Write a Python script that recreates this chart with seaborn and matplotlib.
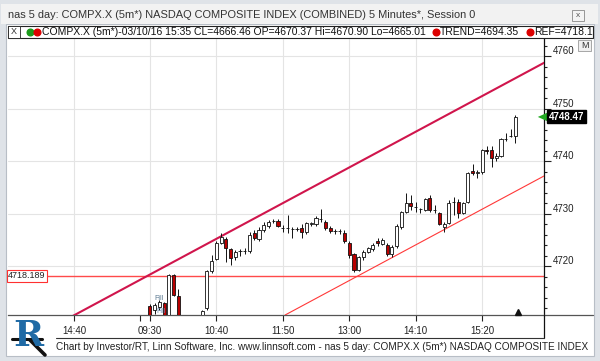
import numpy as np
import matplotlib
matplotlib.use("Agg")
import matplotlib.pyplot as plt
import seaborn as sns
from matplotlib.patches import Rectangle, Polygon
from matplotlib.lines import Line2D
from matplotlib.ticker import MultipleLocator

# 5 minute bars, bar 0 = 09:30 of the last session (bars 7-10 are below the visible range)
opens = [4712.5, 4711.8, 4712.3, 4713.0, 4709.5, 4718.4, 4714.4, np.nan, np.nan, np.nan, np.nan,
         4709.5, 4712.1, 4719.1, 4721.4, 4724.5, 4725.2, 4723.3, 4721.8, 4722.9, 4723.0,
         4722.95, 4726.4, 4725.3, 4727.0, 4727.7, 4728.6, 4728.7, 4727.4, 4727.3, 4727.2,
         4727.1, 4727.3, 4726.6, 4728.1, 4728.1, 4729.1, 4728.5, 4727.3, 4726.8, 4726.7,
         4726.4, 4724.5, 4722.4, 4719.3, 4721.8, 4722.8, 4723.3, 4724.9, 4724.3, 4724.1,
         4722.4, 4723.9, 4727.5, 4730.4, 4732.1, 4731.4, 4731.0, 4730.8, 4733.05, 4730.8,
         4730.2, 4727.5, 4728.3, 4732.3, 4732.3, 4730.2, 4732.3, 4738.2, 4737.8, 4738.0,
         4742.1, 4742.2, 4740.7, 4741.05, 4744.3, 4744.8, 4744.9]
highs = [4712.8, 4713.0, 4713.6, 4713.3, 4718.5, 4718.5, 4715.7, np.nan, np.nan, np.nan, np.nan,
         4711.7, 4719.3, 4722.2, 4724.9, 4726.4, 4725.6, 4723.5, 4723.1, 4723.3, 4723.5,
         4726.6, 4727.0, 4727.5, 4728.5, 4728.9, 4729.0, 4729.0, 4727.9, 4729.8, 4727.5,
         4727.5, 4728.1, 4728.5, 4728.5, 4729.6, 4731.0, 4728.9, 4727.7, 4727.2, 4727.2,
         4727.0, 4724.9, 4722.6, 4722.0, 4723.1, 4723.8, 4724.4, 4725.4, 4725.4, 4724.4,
         4724.0, 4728.0, 4730.6, 4734.0, 4733.6, 4732.3, 4731.1, 4733.1, 4733.6, 4731.7,
         4730.4, 4728.4, 4732.7, 4733.2, 4732.9, 4732.3, 4738.0, 4739.5, 4738.4, 4742.4,
         4743.0, 4743.0, 4741.6, 4744.5, 4745.4, 4746.2, 4748.9]
lows = [4708.0, 4711.0, 4711.8, 4709.0, 4709.0, 4714.3, 4709.0, np.nan, np.nan, np.nan, np.nan,
        4709.0, 4711.8, 4718.8, 4721.2, 4724.3, 4720.9, 4720.3, 4721.2, 4722.0, 4722.4,
        4722.6, 4725.0, 4724.9, 4726.6, 4727.3, 4728.3, 4727.5, 4726.6, 4726.4, 4725.4,
        4726.7, 4725.4, 4726.2, 4727.7, 4727.7, 4728.5, 4727.0, 4726.4, 4726.2, 4726.2,
        4724.5, 4721.6, 4718.95, 4719.1, 4721.2, 4722.5, 4723.0, 4723.9, 4724.0, 4722.0,
        4721.8, 4723.6, 4727.2, 4730.2, 4730.8, 4730.4, 4730.2, 4730.5, 4730.4, 4730.2,
        4727.9, 4726.6, 4728.0, 4729.8, 4729.2, 4729.9, 4732.0, 4737.5, 4736.9, 4737.7,
        4741.4, 4738.95, 4740.0, 4740.8, 4743.9, 4744.7, 4743.5]
closes = [4709.0, 4712.6, 4713.2, 4709.5, 4718.4, 4714.6, 4709.5, np.nan, np.nan, np.nan, np.nan,
          4711.5, 4719.1, 4721.0, 4724.5, 4725.6, 4723.5, 4721.6, 4722.8, 4723.0, 4722.95,
          4726.0, 4725.4, 4727.0, 4727.9, 4728.5, 4728.7, 4727.8, 4727.3, 4727.35, 4727.1,
          4727.2, 4726.6, 4728.3, 4728.2, 4729.2, 4729.0, 4727.3, 4726.8, 4726.7, 4726.75,
          4724.9, 4722.2, 4719.3, 4721.8, 4722.8, 4723.5, 4724.1, 4724.5, 4725.0, 4722.4,
          4723.7, 4727.7, 4730.4, 4732.1, 4731.5, 4731.3, 4730.9, 4732.9, 4730.8, 4730.7,
          4728.1, 4728.1, 4732.1, 4732.2, 4730.2, 4732.1, 4737.8, 4737.8, 4737.9, 4742.2,
          4742.0, 4740.7, 4741.05, 4744.3, 4744.2, 4744.9, 4748.47]

tick_bars = [-16, 0, 14, 28, 42, 56, 70]
tick_labels = ["14:40", "09:30", "10:40", "11:50", "13:00", "14:10", "15:20"]

# channel lines (bar, price)
upper_bars = [-30, 83.1]
upper_prices = [4703.9, 4758.8]
lower_bars = [28.5, 83.1]
lower_prices = [4710.76, 4737.25]
ref_level = 4718.189
last_price = 4748.47

W, H = 600, 361
def fx(px):
    return px / W
def fy(py):
    return 1 - py / H

sns.set_theme(style="white")
plt.rcParams["font.family"] = ["Liberation Sans", "DejaVu Sans"]

fig = plt.figure(figsize=(6, 3.61), dpi=100)
fig.patch.set_facecolor("#dfe3e8")

# white chart panel (behind the axes)
fig.patches.append(Rectangle((fx(6), fy(356)), fx(594) - fx(6), fy(24) - fy(356),
                             transform=fig.transFigure, facecolor="white", edgecolor="#b8bec6",
                             lw=0.8, zorder=-10))
# title bar
fig.patches.append(Rectangle((fx(1), fy(24)), fx(598) - fx(1), fy(4) - fy(24),
                             transform=fig.transFigure, facecolor="#f2f2f2", edgecolor="none", zorder=-10))
fig.text(fx(8), fy(15), "nas 5 day: COMPX.X (5m*) NASDAQ COMPOSITE INDEX (COMBINED) 5 Minutes*, Session 0",
         fontsize=7.9, color="#333333", va="center", ha="left")
fig.patches.append(Rectangle((fx(572), fy(21)), fx(12), fy(10) - fy(21),
                             transform=fig.transFigure, facecolor="#f4f4f4", edgecolor="#888888", lw=0.6))
fig.text(fx(578), fy(15.5), "x", fontsize=6, color="#555555", ha="center", va="center")

# info bar
fig.patches.append(Rectangle((fx(8), fy(38)), fx(593) - fx(8), fy(26) - fy(38),
                             transform=fig.transFigure, facecolor="white", edgecolor="#222222", lw=0.8))
fig.patches.append(Rectangle((fx(8), fy(38)), fx(12), fy(26) - fy(38),
                             transform=fig.transFigure, facecolor="white", edgecolor="#222222", lw=0.6))
fig.text(fx(14), fy(32), "X", fontsize=6.5, color="#333333", ha="center", va="center")
for px, c in [(30, "#1a9a1a"), (37, "#dd0000"), (436, "#dd0000"), (530, "#dd0000")]:
    fig.add_artist(Line2D([fx(px)], [fy(32)], marker="o", ms=4.8, color=c, lw=0))
fig.text(fx(42), fy(32), "COMPX.X (5m*)-03/10/16 15:35 CL=4666.46 OP=4670.37 Hi=4670.90 Lo=4665.01",
         fontsize=7.5, color="#111111", ha="left", va="center")
fig.text(fx(440), fy(32), "TREND=4694.35", fontsize=7.5, color="#111111", ha="left", va="center")
fig.text(fx(534), fy(32), "REF=4718.1", fontsize=7.5, color="#111111", ha="left", va="center")

# main price axes
ax = fig.add_axes([fx(8), fy(315), fx(544) - fx(8), fy(38) - fy(315)])
ax.set_facecolor("white")
ax.set_xlim(-29.9, 83.05)
ax.set_ylim(4710.76, 4763.5)

ax.set_xticks(tick_bars)
ax.set_xticklabels(tick_labels)
ax.set_xticks([-2], minor=True)
ax.set_yticks(range(4720, 4761, 10))
ax.yaxis.set_minor_locator(MultipleLocator(2))
ax.yaxis.tick_right()
ax.grid(True, which="major", color="#e4e4e4", lw=0.8)
ax.set_axisbelow(True)

for s in ["left", "top"]:
    ax.spines[s].set_visible(False)
ax.spines["right"].set_color("#111111")
ax.spines["right"].set_linewidth(0.9)
ax.spines["bottom"].set_color("#555555")
ax.spines["bottom"].set_linewidth(0.9)

ax.tick_params(axis="x", which="major", direction="out", length=4, width=0.8, color="#222222",
               pad=4, labelsize=7, labelcolor="#222222", bottom=True)
ax.tick_params(axis="x", which="minor", direction="out", length=4, width=0.8, color="#222222", bottom=True)
ax.tick_params(axis="y", which="major", direction="out", length=5, width=0.8, color="#222222",
               pad=1.5, labelsize=7, labelcolor="#222222", right=True)
ax.tick_params(axis="y", which="minor", direction="out", length=2.5, width=0.8, color="#222222", right=True)
for lab in ax.get_yticklabels():
    lab.set_va("bottom")

# horizontal reference line
ax.axhline(ref_level, color="#ff4a4a", lw=1.0, zorder=2)
ax.text(0.0, ref_level, "4718.189", transform=ax.get_yaxis_transform(), fontsize=6.5,
        color="#222222", ha="left", va="center", zorder=6,
        bbox=dict(boxstyle="square,pad=0.15", fc="white", ec="#ff3030", lw=0.8))

# channel
sns.lineplot(x=upper_bars, y=upper_prices, ax=ax, color="#d0154c", lw=1.5, zorder=3)
sns.lineplot(x=lower_bars, y=lower_prices, ax=ax, color="#ff3838", lw=0.8, zorder=3)

# candles
bars = np.arange(len(closes))
o = np.array(opens); c = np.array(closes); h = np.array(highs); l = np.array(lows)
ok = ~np.isnan(c)
up = ok & (c >= o)
dn = ok & (c < o)
ax.vlines(bars[ok], l[ok], h[ok], color="#111111", lw=0.7, zorder=4)
body_lo = np.minimum(o, c)
body_h = np.maximum(np.abs(c - o), 0.06)
ax.bar(bars[up], body_h[up], bottom=body_lo[up], width=0.66, color="white",
       edgecolor="#111111", lw=0.6, zorder=5)
ax.bar(bars[dn], body_h[dn], bottom=body_lo[dn], width=0.66, color="#b80000",
       edgecolor="#111111", lw=0.6, zorder=5)

# fill markers near the open
ax.text(1.0, 4713.6, "Fill", fontsize=5, color="#5a7890", zorder=6)
ax.text(1.4, 4711.2, "Fill", fontsize=5, color="#6a8cb0", zorder=6)

# last price marker
ax.plot([77.6], [4711.35], marker="^", color="#111111", ms=4, clip_on=False, zorder=6)
ytr = ax.get_yaxis_transform()
ax.add_patch(Polygon([(0.9885, last_price), (1.008, last_price + 0.9), (1.008, last_price - 0.9)],
                     closed=True, transform=ytr, facecolor="#22aa22", edgecolor="none", clip_on=False, zorder=7))
ax.text(1.009, last_price, "4748.47", transform=ytr, fontsize=7, color="white", fontweight="bold",
        ha="left", va="center", zorder=8,
        bbox=dict(boxstyle="square,pad=0.15", fc="black", ec="black"))

# "M" button
fig.patches.append(Rectangle((fx(578), fy(51)), fx(13), fy(40) - fy(51), transform=fig.transFigure,
                             facecolor="#f0f0f0", edgecolor="#999999", lw=0.6))
fig.text(fx(584.5), fy(45.5), "M", fontsize=6.5, color="#333333", ha="center", va="center")

# frame lines around the axis area
fig.add_artist(Line2D([fx(544), fx(593)], [fy(315), fy(315)], color="#555555", lw=0.9))
fig.add_artist(Line2D([fx(544), fx(544)], [fy(315), fy(338)], color="#111111", lw=0.9))
fig.add_artist(Line2D([fx(56), fx(544)], [fy(337.5), fy(337.5)], color="#333333", lw=0.8))

# footer
fig.text(fx(56), fy(347), "Chart by Investor/RT, Linn Software, Inc. www.linnsoft.com - nas 5 day: "
         "COMPX.X (5m*) NASDAQ COMPOSITE INDEX", fontsize=7.2, color="#222222",
         ha="left", va="center")

# logo
fig.text(fx(28), fy(336), "R", fontsize=26, color="#1f6aa5", fontweight="bold",
         family="DejaVu Serif", ha="center", va="center")
fig.add_artist(Line2D([fx(12), fx(42)], [fy(339), fy(339)], color="#111111", lw=2.2))
fig.add_artist(Line2D([fx(30), fx(45)], [fy(340), fy(355)], color="#111111", lw=2.6))

fig.savefig("out.png", dpi=100, facecolor=fig.get_facecolor())
